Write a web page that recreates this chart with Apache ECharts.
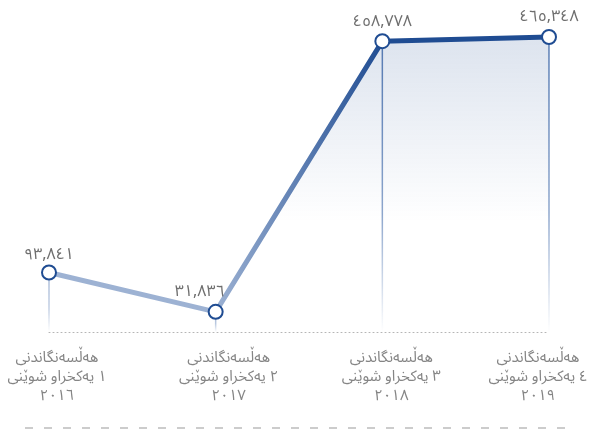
<!DOCTYPE html>
<html>
<head>
<meta charset="utf-8">
<script src="https://cdn.jsdelivr.net/npm/echarts@6/dist/echarts.min.js"></script>
<style>
html,body{margin:0;padding:0;background:#fff;}
#c{width:611px;height:429px;}
</style>
</head>
<body>
<div id="c"></div>
<script>
var categories = [
  'هەڵسەنگاندنی\n\u200Eشوێنی\u200E \u200Eیەکخراو\u200E \u200E١\n٢٠١٦',
  'هەڵسەنگاندنی\n\u200Eشوێنی\u200E \u200Eیەکخراو\u200E \u200E٢\n٢٠١٧',
  'هەڵسەنگاندنی\n\u200Eشوێنی\u200E \u200Eیەکخراو\u200E \u200E٣\n٢٠١٨',
  'هەڵسەنگاندنی\n\u200Eشوێنی\u200E \u200Eیەکخراو\u200E \u200E٤\n٢٠١٩'
];
var values = [93841, 31836, 458778, 465348];
var valueLabels = ['٩٣,٨٤١', '٣١,٨٣٦', '٤٥٨,٧٧٨', '٤٦٥,٣٤٨'];
var labelShifts = [16, 26, 18, -22];

var light = '#9db2d3';
var dark = '#1f4c92';
var font = "'Noto Sans Arabic', 'DejaVu Sans', sans-serif";

var chart = echarts.init(document.getElementById('c'), null, {renderer: 'canvas'});

var dropColors = ['#a9bbd8', '#9db2d3', '#5f82b8', '#5f82b8'];

chart.setOption({
  animation: false,
  grid: {left: 49, right: 62, top: 15, bottom: 97, outerBoundsMode: 'none', containLabel: false},
  xAxis: {
    type: 'category',
    boundaryGap: false,
    data: categories.map(function (c, i) {
      var s = labelShifts[i];
      return {value: c, textStyle: {padding: s >= 0 ? [0, 0, 0, s] : [0, -s, 0, 0]}};
    }),
    axisLine: {show: true, lineStyle: {color: '#b5b5b5', type: [1, 3], width: 1}},
    axisTick: {show: false},
    axisLabel: {
      color: '#858585', fontSize: 15, lineHeight: 19, margin: 18,
      fontFamily: font, interval: 0, hideOverlap: false
    },
    splitLine: {show: false}
  },
  yAxis: {
    type: 'value', min: 0, max: 500000, show: false,
    splitLine: {show: false}
  },
  graphic: [{
    type: 'line',
    shape: {x1: 25, y1: 428, x2: 566, y2: 428},
    style: {stroke: '#9a9a9a', lineWidth: 1.2, lineDash: [8, 11]},
    silent: true
  }],
  series: [
    {
      type: 'bar',
      data: values.map(function (v, i) {
        return {
          value: v,
          itemStyle: {
            color: new echarts.graphic.LinearGradient(0, 0, 0, 1, [
              {offset: 0, color: dropColors[i]},
              {offset: 0.6, color: echarts.color.modifyAlpha(dropColors[i], 0.7)},
              {offset: 1, color: echarts.color.modifyAlpha(dropColors[i], 0)}
            ])
          }
        };
      }),
      barWidth: 1.5,
      silent: true,
      z: 1
    },
    {
      type: 'line',
      data: values.map(function (v, i) {
        var d = {value: v};
        if (i === 0) d.label = {offset: [0, 2]};
        if (i === 1) d.label = {offset: [-16, 0]};
        return d;
      }),
      symbol: 'circle',
      symbolSize: 14,
      z: 3,
      itemStyle: {color: '#fff', borderColor: dark, borderWidth: 2},
      lineStyle: {
        width: 5,
        color: new echarts.graphic.LinearGradient(0, 0, 1, 0, [
          {offset: 0, color: light},
          {offset: 0.333, color: light},
          {offset: 0.667, color: dark},
          {offset: 1, color: dark}
        ])
      },
      areaStyle: {
        color: new echarts.graphic.LinearGradient(0, 0, 0, 1, [
          {offset: 0, color: 'rgba(31,76,146,0.22)'},
          {offset: 0.63, color: 'rgba(31,76,146,0)'},
          {offset: 1, color: 'rgba(31,76,146,0)'}
        ])
      },
      label: {
        show: true,
        position: 'top',
        distance: 2,
        color: '#6e6e6e',
        fontSize: 16,
        fontFamily: font,
        formatter: function (p) { return valueLabels[p.dataIndex]; }
      }
    }
  ]
});
</script>
</body>
</html>
